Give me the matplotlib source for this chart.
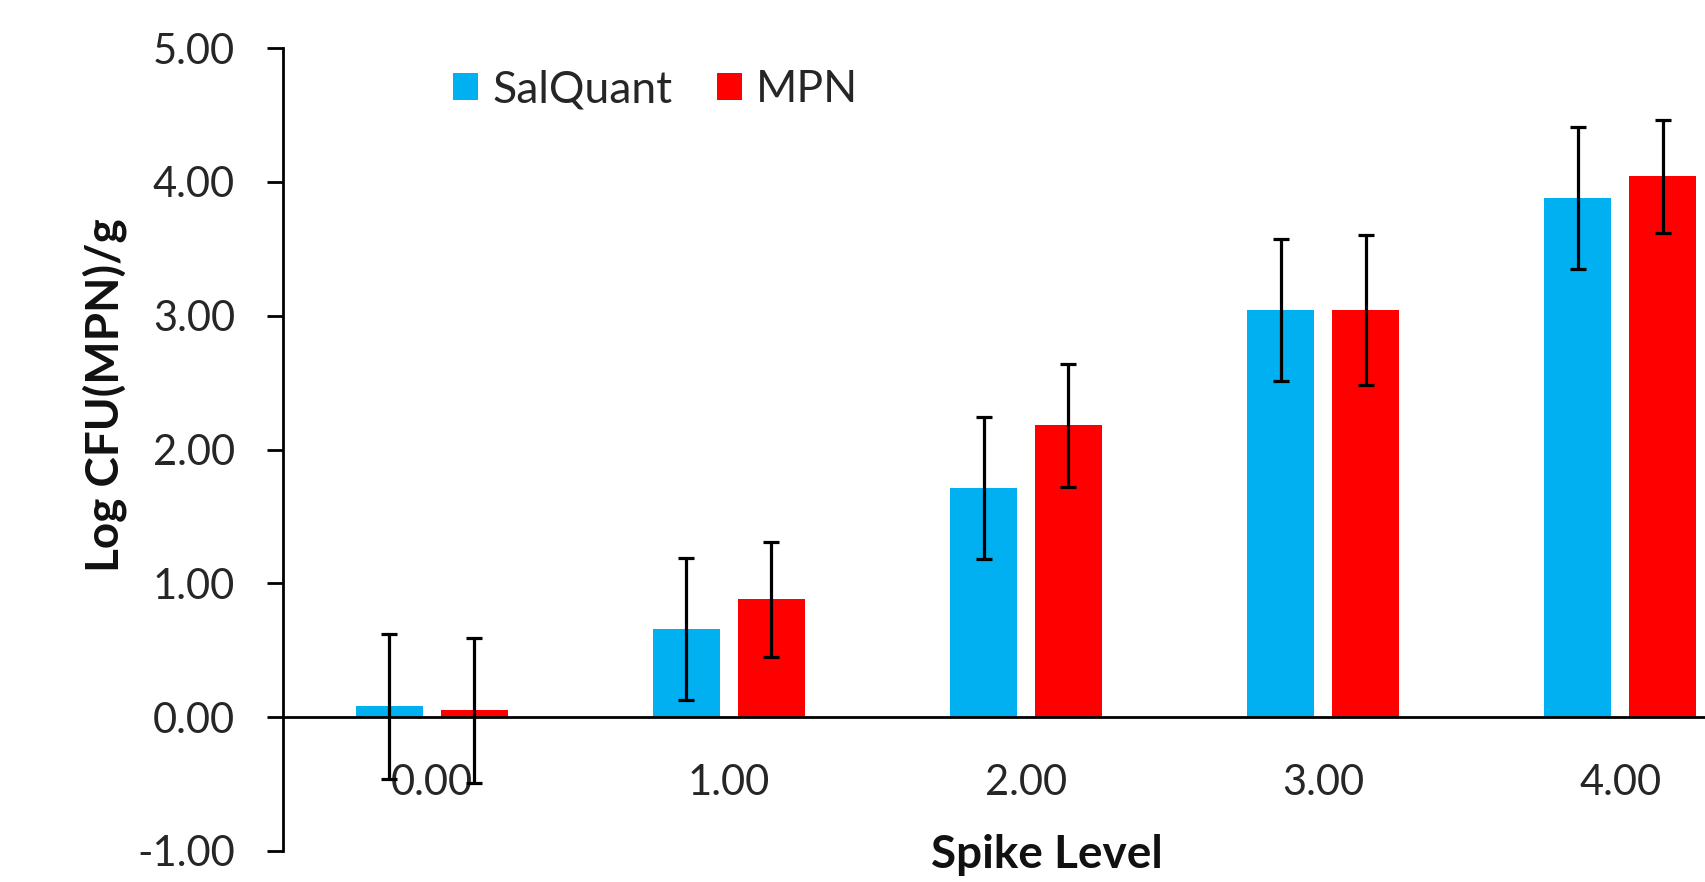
import matplotlib
matplotlib.use("Agg")
import matplotlib.pyplot as plt
from matplotlib.patches import Patch
import numpy as np

plt.rcParams['font.family'] = ['Lato', 'DejaVu Sans']

# ---- data ----
categories = ["0.00", "1.00", "2.00", "3.00", "4.00"]
salquant = [0.08, 0.66, 1.71, 3.04, 3.88]
salquant_err = [0.54, 0.53, 0.53, 0.53, 0.53]
mpn = [0.05, 0.88, 2.18, 3.04, 4.04]
mpn_err = [0.54, 0.43, 0.46, 0.56, 0.42]
series_names = ["SalQuant", "MPN"]
colors = ["#00B0F0", "#FF0000"]
yticks = [-1, 0, 1, 2, 3, 4, 5]

W, H = 1706, 882
fig = plt.figure(figsize=(W / 100, H / 100), dpi=100)
ax = fig.add_axes([283 / W, 1 - 851 / H, (1769 - 283) / W, (851 - 48) / H])

x = np.arange(len(categories))
bw = 0.225
off = 0.143
ax.bar(x - off, salquant, bw, color=colors[0], edgecolor='none', zorder=2)
ax.bar(x + off, mpn, bw, color=colors[1], edgecolor='none', zorder=2)
ax.errorbar(x - off, salquant, yerr=salquant_err, fmt='none', ecolor='black',
            elinewidth=2.3, capsize=6, capthick=2.3, zorder=4)
ax.errorbar(x + off, mpn, yerr=mpn_err, fmt='none', ecolor='black',
            elinewidth=2.3, capsize=6, capthick=2.3, zorder=4)

ax.set_xlim(-0.5, 4.5)
ax.set_ylim(-1, 5)
ax.set_yticks(yticks)
ax.set_yticklabels([f"{v:.2f}" for v in yticks])
ax.set_xticks(x)
ax.set_xticklabels(categories)

for s in ['top', 'right']:
    ax.spines[s].set_visible(False)
ax.spines['bottom'].set_position(('data', 0))
ax.spines['left'].set_linewidth(2.0)
ax.spines['bottom'].set_linewidth(2.0)
ax.spines['bottom'].set_zorder(3)

ax.tick_params(axis='y', direction='out', length=11.5, width=2.0, pad=23,
               labelsize=30, labelcolor='#262626')
ax.tick_params(axis='x', length=0, pad=34, labelsize=30, labelcolor='#262626')

fig.text(105 / W, 1 - 395 / H, "Log CFU(MPN)/g", rotation=90, ha='center',
         va='center', fontsize=33, fontweight='bold', color='#111111')
fig.text(1047 / W, 1 - 868 / H, "Spike Level", ha='center', va='baseline',
         fontsize=33, fontweight='bold', color='#111111')

handles = [Patch(facecolor=c, edgecolor='none') for c in colors]
fig.legend(handles, series_names, loc='center left',
           bbox_to_anchor=(453 / W, 1 - 90 / H), ncol=2, frameon=False,
           fontsize=32, handlelength=0.56, handleheight=0.56, handletextpad=0.32,
           columnspacing=1.0, borderpad=0, borderaxespad=0, labelcolor='#262626')

fig.savefig("out.png", dpi=100)
